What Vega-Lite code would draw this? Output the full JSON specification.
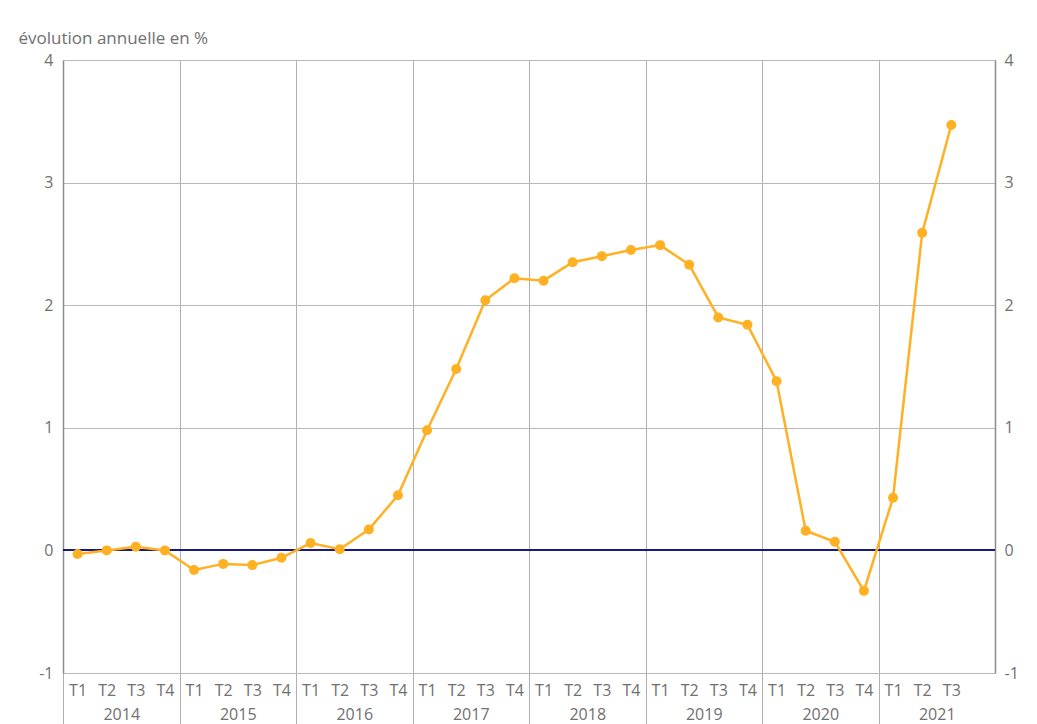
{
  "$schema": "https://vega.github.io/schema/vega-lite/v6.json",
  "width": 932,
  "height": 613,
  "autosize": {"type": "none"},
  "padding": {"left": 63, "top": 60, "right": 42, "bottom": 51},
  "background": "white",
  "config": {
    "view": {"stroke": null},
    "font": "Open Sans",
    "axis": {"labelFont": "Open Sans", "titleFont": "Open Sans", "labelColor": "#707070", "titleColor": "#707070", "labelFontSize": 16, "titleFontWeight": "normal"}
  },
  "data": {
    "values": [
      {"q": "2014-T1", "year": "2014", "v": -0.03},
      {"q": "2014-T2", "year": "2014", "v": 0.0},
      {"q": "2014-T3", "year": "2014", "v": 0.03},
      {"q": "2014-T4", "year": "2014", "v": 0.0},
      {"q": "2015-T1", "year": "2015", "v": -0.16},
      {"q": "2015-T2", "year": "2015", "v": -0.11},
      {"q": "2015-T3", "year": "2015", "v": -0.12},
      {"q": "2015-T4", "year": "2015", "v": -0.06},
      {"q": "2016-T1", "year": "2016", "v": 0.06},
      {"q": "2016-T2", "year": "2016", "v": 0.01},
      {"q": "2016-T3", "year": "2016", "v": 0.17},
      {"q": "2016-T4", "year": "2016", "v": 0.45},
      {"q": "2017-T1", "year": "2017", "v": 0.98},
      {"q": "2017-T2", "year": "2017", "v": 1.48},
      {"q": "2017-T3", "year": "2017", "v": 2.04},
      {"q": "2017-T4", "year": "2017", "v": 2.22},
      {"q": "2018-T1", "year": "2018", "v": 2.2},
      {"q": "2018-T2", "year": "2018", "v": 2.35},
      {"q": "2018-T3", "year": "2018", "v": 2.4},
      {"q": "2018-T4", "year": "2018", "v": 2.45},
      {"q": "2019-T1", "year": "2019", "v": 2.49},
      {"q": "2019-T2", "year": "2019", "v": 2.33},
      {"q": "2019-T3", "year": "2019", "v": 1.9},
      {"q": "2019-T4", "year": "2019", "v": 1.84},
      {"q": "2020-T1", "year": "2020", "v": 1.38},
      {"q": "2020-T2", "year": "2020", "v": 0.16},
      {"q": "2020-T3", "year": "2020", "v": 0.07},
      {"q": "2020-T4", "year": "2020", "v": -0.33},
      {"q": "2021-T1", "year": "2021", "v": 0.43},
      {"q": "2021-T2", "year": "2021", "v": 2.59},
      {"q": "2021-T3", "year": "2021", "v": 3.47}
    ]
  },
  "layer": [
    {
      "mark": {"type": "point", "opacity": 0},
      "encoding": {
        "x": {
          "field": "year", "type": "ordinal",
          "scale": {"domain": ["2014","2015","2016","2017","2018","2019","2020","2021"], "paddingInner": 0, "paddingOuter": 0},
          "axis": {"orient": "bottom", "title": null, "labelAngle": 0, "domain": false, "grid": true, "gridColor": "#b0b0b0", "gridWidth": 1, "ticks": true, "tickColor": {"condition": {"test": "datum.value == '2021'", "value": "transparent"}, "value": "#b0b0b0"}, "tickSize": 51, "tickBand": "extent", "labelPadding": -18, "labelAlign": "center"}
        },
        "y": {
          "field": "v", "type": "quantitative",
          "scale": {"domain": [-1, 4], "nice": false, "zero": false},
          "axis": {"orient": "right", "title": null, "values": [-1,0,1,2,3,4], "labelExpr": "'' + datum.value", "grid": false, "ticks": false, "domainColor": "#8c8c8c", "domainWidth": 1.5, "labelPadding": 9}
        }
      }
    },
    {
      "mark": {"type": "rule", "color": "#1a1a80", "strokeWidth": 1.2},
      "encoding": {
        "y": {"datum": 0, "type": "quantitative", "scale": {"domain": [-1, 4], "nice": false, "zero": false}, "axis": null}
      }
    },
    {
      "mark": {"type": "line", "color": "#FFB023", "strokeWidth": 2.5, "point": {"filled": true, "size": 100, "color": "#FFB023"}},
      "encoding": {
        "x": {
          "field": "q", "type": "ordinal",
          "scale": {"domain": ["2014-T1","2014-T2","2014-T3","2014-T4","2015-T1","2015-T2","2015-T3","2015-T4","2016-T1","2016-T2","2016-T3","2016-T4","2017-T1","2017-T2","2017-T3","2017-T4","2018-T1","2018-T2","2018-T3","2018-T4","2019-T1","2019-T2","2019-T3","2019-T4","2020-T1","2020-T2","2020-T3","2020-T4","2021-T1","2021-T2","2021-T3","2021-T4"], "paddingInner": 0, "paddingOuter": 0},
          "axis": {"orient": "bottom", "title": null, "labelAngle": 0, "labelExpr": "datum.value == '2021-T4' ? '' : split(datum.value, '-')[1]", "domain": false, "grid": false, "ticks": false, "labelPadding": 9}
        },
        "y": {
          "field": "v", "type": "quantitative",
          "scale": {"domain": [-1, 4], "nice": false, "zero": false},
          "axis": {"orient": "left", "values": [-1,0,1,2,3,4], "labelExpr": "'' + datum.value", "grid": true, "gridColor": "#b8b8b8", "ticks": false, "domainColor": "#8c8c8c", "domainWidth": 1.5, "labelPadding": 10,
            "title": "évolution annuelle en %", "titleAngle": 0, "titleAlign": "left", "titleBaseline": "alphabetic", "titleX": -45, "titleY": -17, "titleFontSize": 17}
        }
      }
    }
  ],
  "resolve": {"scale": {"x": "independent", "y": "independent"}}
}
